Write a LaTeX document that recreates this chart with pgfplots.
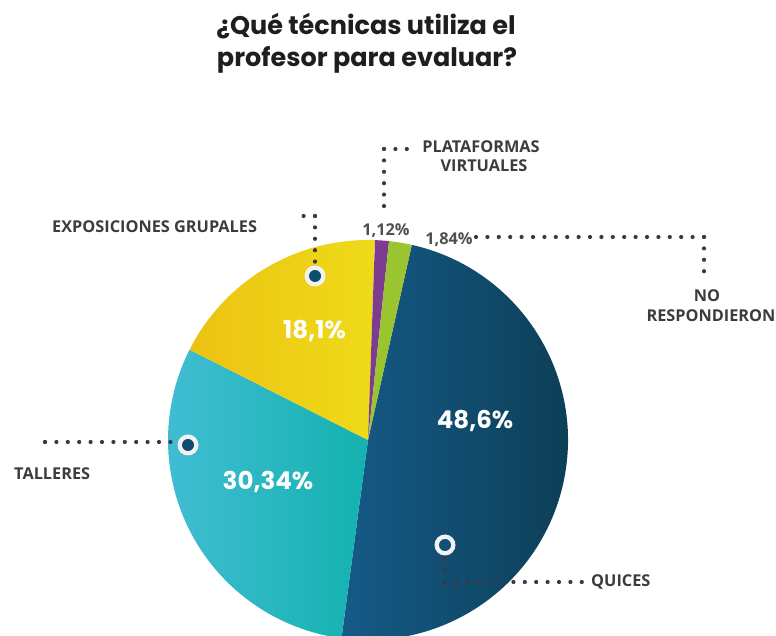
\documentclass[border=0pt]{standalone}
\usepackage{pgfplots}
\pgfplotsset{compat=1.18}
\usepackage{pgfplotstable}
\usepackage{fontspec}
\setmainfont{Open Sans}
\newfontfamily\pop{Poppins}

\definecolor{quiL}{HTML}{155A87}
\definecolor{quiR}{HTML}{0C3D53}
\definecolor{talL}{HTML}{42BDD3}
\definecolor{talR}{HTML}{13B2AF}
\definecolor{expL}{HTML}{ECC213}
\definecolor{expR}{HTML}{EFDB19}
\definecolor{plaC}{HTML}{7D3C8F}
\definecolor{nrC}{HTML}{9BC431}
\definecolor{dotC}{HTML}{3A3846}
\definecolor{labC}{HTML}{3C3C3C}
\definecolor{titC}{HTML}{1E1E1E}
\definecolor{ringC}{HTML}{F2F2F2}
\definecolor{innC}{HTML}{0F4D6E}

% category: 0 Plataformas virtuales, 1 No respondieron, 2 Quices, 3 Talleres, 4 Exposiciones grupales
\pgfplotstableread{
idx value
0 1.12
1 1.84
2 48.6
3 30.34
4 18.1
}\piedata

\pgfplotstablegetelem{0}{value}\of\piedata \let\vPla\pgfplotsretval
\pgfplotstablegetelem{1}{value}\of\piedata \let\vNr\pgfplotsretval
\pgfplotstablegetelem{2}{value}\of\piedata \let\vQui\pgfplotsretval
\pgfplotstablegetelem{3}{value}\of\piedata \let\vTal\pgfplotsretval
\pgfplotstablegetelem{4}{value}\of\piedata \let\vExp\pgfplotsretval
\pgfmathsetmacro\aA{88}
\pgfmathsetmacro\aB{\aA-3.6*\vPla}
\pgfmathsetmacro\aC{\aB-3.6*\vNr}
\pgfmathsetmacro\aD{\aC-3.6*\vQui}
\pgfmathsetmacro\aE{\aD-3.6*\vTal}
\pgfmathsetmacro\aF{\aE-3.6*\vExp}

\tikzset{
  leader/.style={dotC, line width=4.2bp, line cap=round, dash pattern=on 0bp off 11.4bp},
  lab/.style={text=labC, font=\fontsize{16.3bp}{18bp}\selectfont\bfseries, inner sep=0pt},
  pct/.style={text=white, font=\pop\fontsize{24.5bp}{26bp}\selectfont\bfseries, inner sep=0pt, anchor=base},
  small/.style={text=labC!90, font=\fontsize{16.3bp}{18bp}\selectfont\bfseries, inner sep=0pt, anchor=base},
}

\begin{document}
\begin{tikzpicture}
\begin{axis}[scale only axis, width=776bp, height=636bp,
  xmin=0, xmax=776, ymin=0, ymax=636, hide axis, clip=true]
% slices
\shade[left color=quiL, right color=quiR] (axis cs:368,196) -- ++(\aC:200bp) arc[start angle=\aC, end angle=\aD, radius=200bp] -- cycle;
\shade[left color=talL, right color=talR] (axis cs:368,196) -- ++(\aD:200bp) arc[start angle=\aD, end angle=\aE, radius=200bp] -- cycle;
\shade[left color=expL, right color=expR] (axis cs:368,196) -- ++(\aE:200bp) arc[start angle=\aE, end angle=\aF, radius=200bp] -- cycle;
\fill[plaC] (axis cs:368,196) -- ++(\aA:200bp) arc[start angle=\aA, end angle=\aB, radius=200bp] -- cycle;
\fill[nrC] (axis cs:368,196) -- ++(\aB:200bp) arc[start angle=\aB, end angle=\aC, radius=200bp] -- cycle;

% leaders
\draw[leader] (axis cs:315,420) -- (axis cs:297,420);
\draw[leader] (axis cs:315,420) -- (axis cs:315,374);
\draw[leader] (axis cs:384,487) -- (axis cs:410,487);
\draw[leader] (axis cs:384,487) -- (axis cs:384,420);
\draw[leader] (axis cs:704,399) -- (axis cs:475,399);
\draw[leader] (axis cs:704,399) -- (axis cs:704,360);
\draw[leader] (axis cs:45,194) -- (axis cs:175,194);
\draw[leader] (axis cs:45,194) -- (axis cs:45,183);
\draw[leader] (axis cs:445,54) -- (axis cs:582,54);
\draw[leader] (axis cs:445,54) -- (axis cs:445,80);

% markers
\fill[ringC] (axis cs:315,360) circle[radius=10.5bp];
\fill[innC] (axis cs:315,360) circle[radius=6bp];
\fill[ringC] (axis cs:188,191) circle[radius=10.5bp];
\fill[innC] (axis cs:188,191) circle[radius=6bp];
\fill[ringC] (axis cs:445,91) circle[radius=10.5bp];
\fill[quiL!70!quiR] (axis cs:445,91) circle[radius=6bp];

% title
\node[text=titC, font=\pop\fontsize{25.5bp}{28bp}\selectfont\bfseries, anchor=base, inner sep=0pt] at (axis cs:366,601) {¿Qué técnicas utiliza el};
\node[text=titC, font=\pop\fontsize{25.5bp}{28bp}\selectfont\bfseries, anchor=base, inner sep=0pt] at (axis cs:367,569) {profesor para evaluar?};

% labels
\node[lab, anchor=base west] at (axis cs:52,403) {EXPOSICIONES GRUPALES};
\node[lab, anchor=base] at (axis cs:481,483) {PLATAFORMAS};
\node[lab, anchor=base] at (axis cs:484,464) {VIRTUALES};
\node[lab, anchor=base] at (axis cs:707,334) {NO};
\node[lab, anchor=base] at (axis cs:711,314) {RESPONDIERON};
\node[lab, anchor=base west] at (axis cs:14,156) {TALLERES};
\node[lab, anchor=base west] at (axis cs:591,49) {QUICES};
\node[small] at (axis cs:386,400) {1,12\%};
\node[small] at (axis cs:449,391) {1,84\%};

% percentages
\node[pct] at (axis cs:314.5,297) {18,1\%};
\node[pct] at (axis cs:475,207) {48,6\%};
\node[pct] at (axis cs:268,146) {30,34\%};
\end{axis}
\pgfresetboundingbox
\path (current axis.south west) rectangle (current axis.north east);
\end{tikzpicture}
\end{document}
